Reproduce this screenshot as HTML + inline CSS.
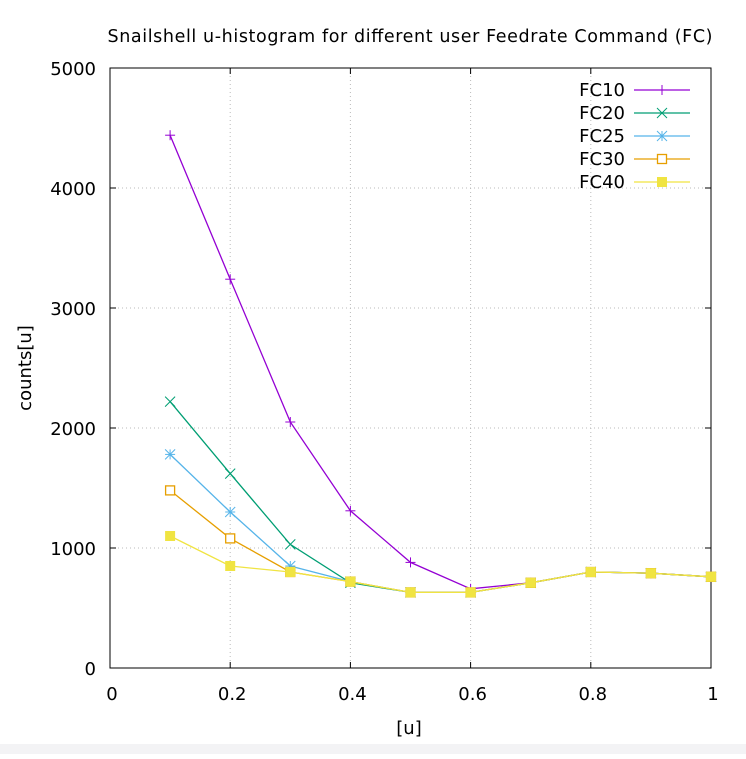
<!DOCTYPE html>
<html><head><meta charset="utf-8"><style>
html,body{margin:0;padding:0;background:#fff;}
svg text{font-family:"DejaVu Sans","Liberation Sans",sans-serif;fill:#000;}
</style></head><body>
<svg id="chart" width="746" height="754" xmlns="http://www.w3.org/2000/svg">
<rect x="0" y="744" width="746" height="10" fill="#f3f3f5"/>
<text x="410" y="42" font-size="17.5" text-anchor="middle" textLength="605">Snailshell u-histogram for different user Feedrate Command (FC)</text>
<g id="grid"></g>
<g id="axes"></g>
<g id="series"></g>
<g id="legend"></g>
<text x="409" y="734" font-size="18" text-anchor="middle">[u]</text>
<text transform="translate(31,368) rotate(-90)" font-size="18" text-anchor="middle">counts[u]</text>
</svg>
<script>
const xVals=[0.1,0.2,0.3,0.4,0.5,0.6,0.7,0.8,0.9,1.0];
const fc10=[4440,3240,2050,1310,880,660,710,800,790,760];
const fc20=[2220,1620,1030,710,630,630,710,800,790,760];
const fc25=[1780,1300,850,720,630,630,710,800,790,760];
const fc30=[1480,1080,800,720,630,630,710,800,790,760];
const fc40=[1100,850,800,720,630,630,710,800,790,760];
const seriesNames=["FC10","FC20","FC25","FC30","FC40"];
const xTicks=[0,0.2,0.4,0.6,0.8,1];
const xTickLabels=["0","0.2","0.4","0.6","0.8","1"];
const yTicks=[0,1000,2000,3000,4000,5000];
const yTickLabels=["0","1000","2000","3000","4000","5000"];

const NS="http://www.w3.org/2000/svg";
const L=110,R=711,T=68,B=668;
const sx=v=>L+(v-0)/(1-0)*(R-L);
const sy=v=>B-(v/5000)*(B-T);
function mk(tag,attrs,parent){const e=document.createElementNS(NS,tag);for(const k in attrs)e.setAttribute(k,attrs[k]);parent.appendChild(e);return e;}
const grid=document.getElementById('grid'),axes=document.getElementById('axes'),ser=document.getElementById('series'),leg=document.getElementById('legend');

xTicks.forEach((t,i)=>{
  const x=sx(t);
  if(t>0&&t<1){const g=mk('line',{x1:x,x2:x,y1:T,y2:B,stroke:'#bbb','stroke-dasharray':'1,3','stroke-width':1},grid);
  
  }
  mk('line',{x1:x,x2:x,y1:B,y2:B-6,stroke:'#000'},axes);
  mk('line',{x1:x,x2:x,y1:T,y2:T+6,stroke:'#000'},axes);
  const tx=mk('text',{x:x+2,y:B+32,'font-size':18,'text-anchor':'middle'},axes);tx.textContent=xTickLabels[i];
  
  
});
yTicks.forEach((t,i)=>{
  const y=sy(t);
  if(t>0&&t<5000){const g=mk('line',{x1:L,x2:R,y1:y,y2:y,stroke:'#bbb','stroke-dasharray':'1,3','stroke-width':1},grid);
  
  }
  mk('line',{x1:L,x2:L+6,y1:y,y2:y,stroke:'#000'},axes);
  mk('line',{x1:R,x2:R-6,y1:y,y2:y,stroke:'#000'},axes);
  const tx=mk('text',{x:L-14,y:y+7,'font-size':18,'text-anchor':'end'},axes);tx.textContent=yTickLabels[i];
  
  
});
const frame=mk('rect',{x:L,y:T,width:R-L,height:B-T,fill:'none',stroke:'#000','stroke-width':1},axes);



const colors=['#9400d3','#009e73','#56b4e9','#e69f00','#f0e442'];
const markers=['plus','cross','star','sqopen','sqfill'];
function marker(type,x,y,c,g){
  const s=5;
  if(type==='plus'||type==='star'){mk('line',{x1:x-s,x2:x+s,y1:y,y2:y,stroke:c},g);mk('line',{x1:x,x2:x,y1:y-s,y2:y+s,stroke:c},g);}
  if(type==='cross'||type==='star'){mk('line',{x1:x-s,x2:x+s,y1:y-s,y2:y+s,stroke:c},g);mk('line',{x1:x-s,x2:x+s,y1:y+s,y2:y-s,stroke:c},g);}
  if(type==='sqopen')mk('rect',{x:x-4.5,y:y-4.5,width:9,height:9,fill:'#fff',stroke:c,'stroke-width':1.3},g);
  if(type==='sqfill')mk('rect',{x:x-5,y:y-5,width:10,height:10,fill:c},g);
}
[fc10,fc20,fc25,fc30,fc40].forEach((data,si)=>{
  const g=mk('g',{},ser);
  
  
  const pts=data.map((v,i)=>sx(xVals[i])+','+sy(v)).join(' ');
  mk('polyline',{points:pts,fill:'none',stroke:colors[si],'stroke-width':1.3},g);
  data.forEach((v,i)=>marker(markers[si],sx(xVals[i]),sy(v),colors[si],g));
  const ly=90+si*23;
  const lg=mk('g',{},leg);
  
  
  const t=mk('text',{x:625,y:ly+6,'font-size':18,'text-anchor':'end'},lg);t.textContent=seriesNames[si];
  mk('line',{x1:634,x2:690,y1:ly,y2:ly,stroke:colors[si],'stroke-width':1.3},lg);
  marker(markers[si],662,ly,colors[si],lg);
});
</script>
</body></html>
